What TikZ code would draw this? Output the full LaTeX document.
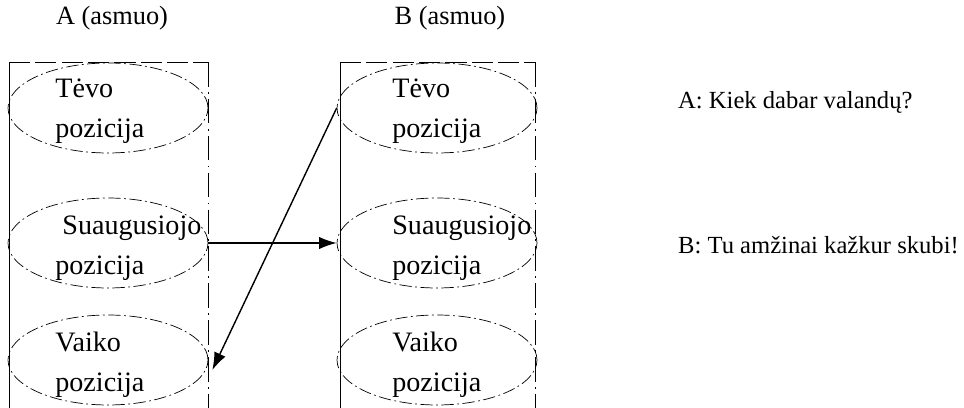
\documentclass[tikz,border=0pt]{standalone}
\usepackage{fontspec}
\setmainfont{Liberation Serif}
\usetikzlibrary{shapes.geometric,arrows.meta}
\begin{document}
\begin{tikzpicture}[x=0.02cm,y=-0.02cm]
        \tikzstyle{every node} = [font=\fontsize{15}{21}\selectfont]
        \tikzstyle{stance} = [ellipse, draw, thin, inner sep=0pt, minimum width=4cm, minimum height=1.8cm,
                           dash pattern=on 7pt off 2pt on 1pt off 2pt]
        \tikzstyle{word} = [anchor=west, align=left, inner sep=0pt, font=\fontsize{16}{22.5}\selectfont]
        \tikzstyle{say} = [anchor=west, font=\fontsize{14}{17}\selectfont]
        \useasboundingbox (0,0) rectangle (964,408);

        % asmenys
        \node at (112,18)(hA){A (asmuo)};
        \node at (450,18)(hB){B (asmuo)};
        \draw[thin] (9,408) -- (9,62);
        \draw[thin, dashed, dash pattern=on 12pt off 3pt] (9,62) -- (208,62);
        \draw[thin, dash pattern=on 14pt off 3pt on 1pt off 3pt] (208,62) -- (208,408);
        \draw[thin] (340,408) -- (340,62);
        \draw[thin, dashed, dash pattern=on 12pt off 3pt] (340,62) -- (535,62);
        \draw[thin, dash pattern=on 14pt off 3pt on 1pt off 3pt] (535,62) -- (535,408);

        % pozicijos
        \node[stance] at (108,108)(tA){};
        \node[stance] at (108,243)(sA){};
        \node[stance] at (108,360)(vA){};
        \node[stance] at (437,108)(tB){};
        \node[stance] at (437,243)(sB){};
        \node[stance] at (437,360)(vB){};
        \node[word] at (55,111)(tAt){Tėvo\\pozicija};
        \node[word] at (55,248)(sAt){\hspace{10\pgflinewidth}Suaugusiojo\\pozicija};
        \node[word] at (55,365)(vAt){Vaiko\\pozicija};
        \node[word] at (392,111)(tBt){Tėvo\\pozicija};
        \node[word] at (392,248)(sBt){Suaugusiojo\\pozicija};
        \node[word] at (392,365)(vBt){Vaiko\\pozicija};

        % sandoris
        \path (sA.east) edge[-{Latex[length=10pt,width=7pt]}, thick] (sB.west);
        \path (tB.west) edge[-{Latex[length=10pt,width=7pt]}, thick] ([shift={(4,10)}]vA.east);

        \node[say] at (672,102)(kA){A: Kiek dabar valandų?};
        \node[say] at (672,245)(kB){B: Tu amžinai kažkur skubi!};
    \end{tikzpicture}
\end{document}
